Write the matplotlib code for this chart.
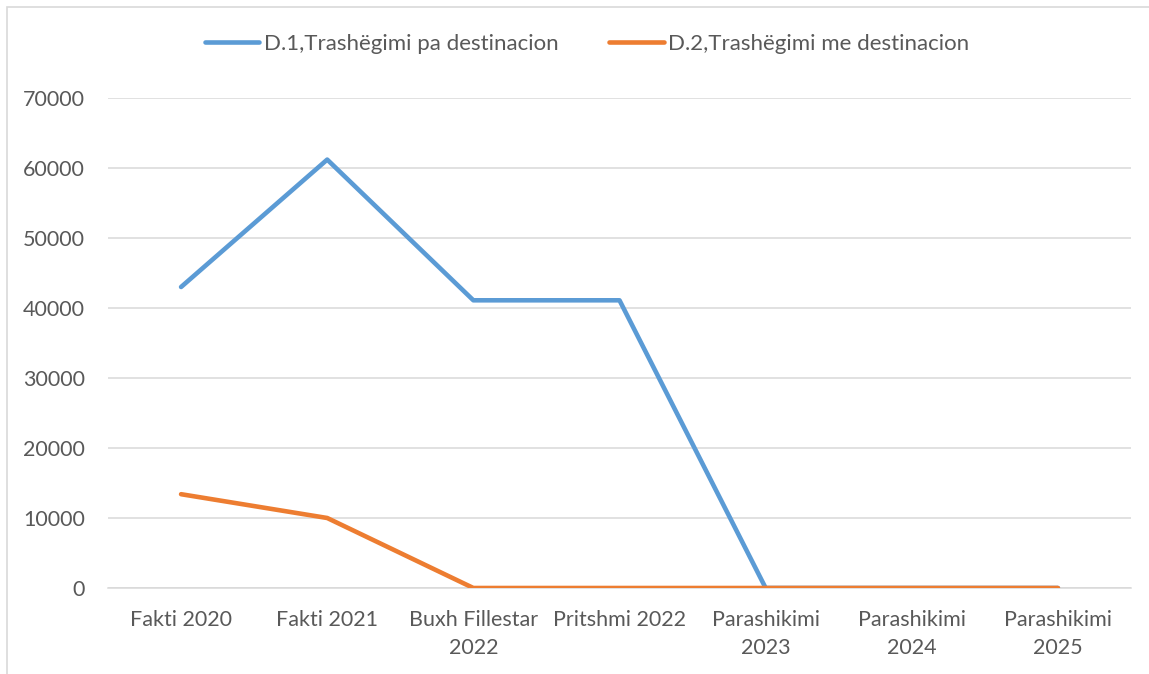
import matplotlib.pyplot as plt
from matplotlib.patches import Rectangle

categories = [
    "Fakti 2020",
    "Fakti 2021",
    "Buxh Fillestar\n2022",
    "Pritshmi 2022",
    "Parashikimi\n2023",
    "Parashikimi\n2024",
    "Parashikimi\n2025",
]
d1_values = [43000, 61200, 41100, 41100, 0, 0, 0]
d2_values = [13400, 10000, 0, 0, 0, 0, 0]
series_labels = ["D.1,Trashëgimi pa destinacion", "D.2,Trashëgimi me destinacion"]
y_ticks = [0, 10000, 20000, 30000, 40000, 50000, 60000, 70000]

TEXT = "#595959"
GRID = "#d9d9d9"
FS = 15.5

plt.rcParams["font.family"] = ["Lato", "DejaVu Sans"]

W, H = 1149, 674
fig = plt.figure(figsize=(W / 100, H / 100), dpi=100)

# outer chart border (only the left and top edges fall inside the canvas)
fig.patches.append(
    Rectangle((7 / W, -0.1), 1.2, 1 - 7 / H + 0.1, transform=fig.transFigure,
              fill=False, edgecolor=GRID, linewidth=1.2)
)

ax = fig.add_axes([108 / W, 1 - 588 / H, (1131 - 108) / W, (588 - 98) / H])

x = list(range(len(categories)))
ax.plot(x, d1_values, color="#5b9bd5", linewidth=3.3, solid_capstyle="round",
        solid_joinstyle="round", label=series_labels[0], zorder=3)
ax.plot(x, d2_values, color="#ed7d31", linewidth=3.3, solid_capstyle="round",
        solid_joinstyle="round", label=series_labels[1], zorder=4)

ax.set_xlim(-0.5, len(categories) - 0.5)
ax.set_ylim(0, 70000)
ax.set_yticks(y_ticks)
ax.set_yticklabels([str(v) for v in y_ticks])
ax.set_xticks(x)
ax.set_xticklabels(categories)

ax.grid(axis="y", color=GRID, linewidth=1.1)
ax.set_axisbelow(True)
for side in ["top", "right", "left"]:
    ax.spines[side].set_visible(False)
ax.spines["bottom"].set_color(GRID)
ax.spines["bottom"].set_linewidth(1.1)

ax.tick_params(axis="both", length=0, labelsize=FS, labelcolor=TEXT)
ax.tick_params(axis="y", pad=16.5)
ax.tick_params(axis="x", pad=15.5)
for lbl in ax.get_xticklabels():
    lbl.set_linespacing(1.5)

fig.legend(loc="center", bbox_to_anchor=(587 / W, 1 - 44 / H), ncol=2,
           frameon=False, fontsize=16, labelcolor=TEXT, handlelength=2.45,
           handletextpad=0.2, columnspacing=2.3)

fig.savefig("out.png", dpi=100)
